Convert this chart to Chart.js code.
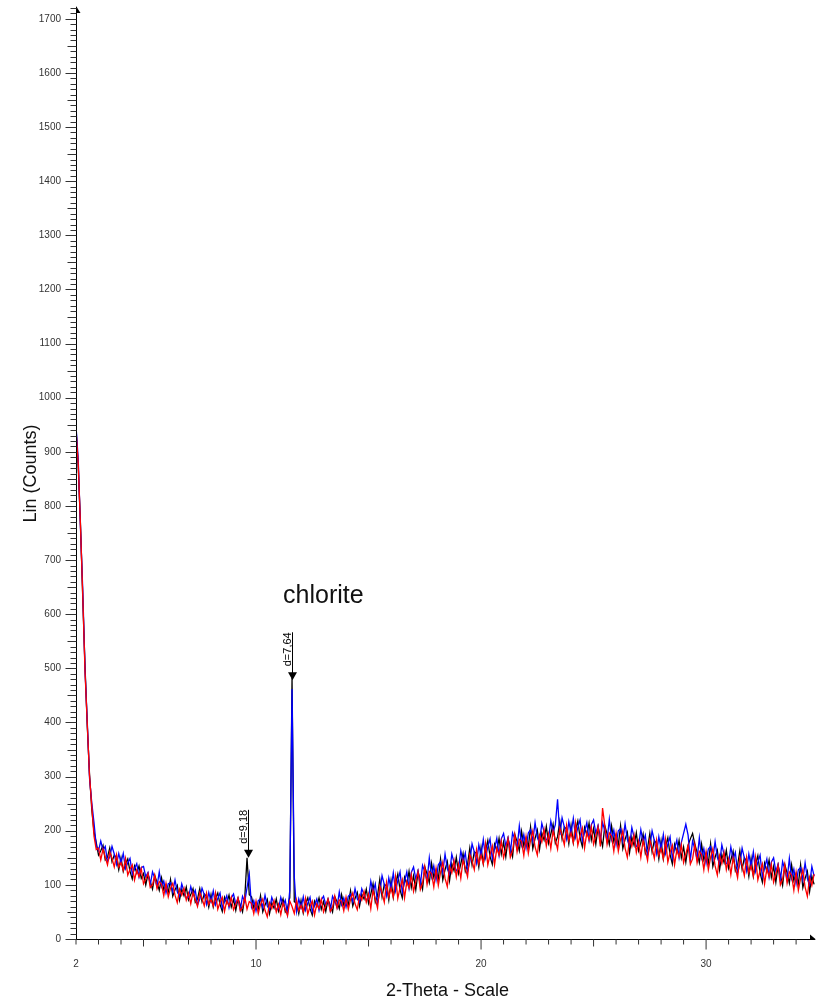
<!DOCTYPE html><html lang="en"><head><meta charset="UTF-8">
<title>XRD pattern</title>
<script src="https://cdn.jsdelivr.net/npm/chart.js"></script>
<style>
    body {
        margin: 0;
        background: white;
    }
    #box {
        width: 816px;
        height: 1004px;
    }
</style>
</head>
<body>
<div id="box"><canvas id="xrd" width="816" height="1004"></canvas></div>
<script>
    // scan positions, degrees 2-theta
    const twoTheta = [
        2,2.1,2.2,2.3,2.4,2.5,2.6,2.7,2.8,2.9,
        3,3.1,3.2,3.3,3.4,3.5,3.6,3.7,3.8,3.9,
        4,4.1,4.2,4.3,4.4,4.5,4.6,4.7,4.8,4.9,
        5,5.1,5.2,5.3,5.4,5.5,5.6,5.7,5.8,5.9,
        6,6.1,6.2,6.3,6.4,6.5,6.6,6.7,6.8,6.9,
        7,7.1,7.2,7.3,7.4,7.5,7.6,7.7,7.8,7.9,
        8,8.1,8.2,8.3,8.4,8.5,8.6,8.7,8.8,8.9,
        9,9.1,9.2,9.3,9.4,9.5,9.6,9.7,9.8,9.9,
        10,10.1,10.2,10.3,10.4,10.5,10.6,10.7,10.8,10.9,
        11,11.1,11.2,11.3,11.4,11.5,11.6,11.7,11.8,11.9,
        12,12.1,12.2,12.3,12.4,12.5,12.6,12.7,12.8,12.9,
        13,13.1,13.2,13.3,13.4,13.5,13.6,13.7,13.8,13.9,
        14,14.1,14.2,14.3,14.4,14.5,14.6,14.7,14.8,14.9,
        15,15.1,15.2,15.3,15.4,15.5,15.6,15.7,15.8,15.9,
        16,16.1,16.2,16.3,16.4,16.5,16.6,16.7,16.8,16.9,
        17,17.1,17.2,17.3,17.4,17.5,17.6,17.7,17.8,17.9,
        18,18.1,18.2,18.3,18.4,18.5,18.6,18.7,18.8,18.9,
        19,19.1,19.2,19.3,19.4,19.5,19.6,19.7,19.8,19.9,
        20,20.1,20.2,20.3,20.4,20.5,20.6,20.7,20.8,20.9,
        21,21.1,21.2,21.3,21.4,21.5,21.6,21.7,21.8,21.9,
        22,22.1,22.2,22.3,22.4,22.5,22.6,22.7,22.8,22.9,
        23,23.1,23.2,23.3,23.4,23.5,23.6,23.7,23.8,23.9,
        24,24.1,24.2,24.3,24.4,24.5,24.6,24.7,24.8,24.9,
        25,25.1,25.2,25.3,25.4,25.5,25.6,25.7,25.8,25.9,
        26,26.1,26.2,26.3,26.4,26.5,26.6,26.7,26.8,26.9,
        27,27.1,27.2,27.3,27.4,27.5,27.6,27.7,27.8,27.9,
        28,28.1,28.2,28.3,28.4,28.5,28.6,28.7,28.8,28.9,
        29,29.1,29.2,29.3,29.4,29.5,29.6,29.7,29.8,29.9,
        30,30.1,30.2,30.3,30.4,30.5,30.6,30.7,30.8,30.9,
        31,31.1,31.2,31.3,31.4,31.5,31.6,31.7,31.8,31.9,
        32,32.1,32.2,32.3,32.4,32.5,32.6,32.7,32.8,32.9,
        33,33.1,33.2,33.3,33.4,33.5,33.6,33.7,33.8,33.9,
        34,34.1,34.2,34.3,34.4,34.5,34.6,34.7,34.8
    ];

    // counts, black scan
    const blackCounts = [
        945,872,765,630,505,395,305,240,198,178,
        155,163,173,146,151,168,143,155,150,128,
        150,125,139,148,125,111,135,122,135,112,
        121,100,120,106,92,117,105,90,113,91,
        100,86,110,79,91,99,72,92,80,96,
        72,82,93,68,74,93,69,83,79,59,
        82,59,75,85,64,51,77,66,81,59,
        73,53,75,63,50,77,150,82,78,58,
        67,55,80,50,63,73,47,67,57,74,
        51,62,74,50,57,77,482,69,66,47,
        71,48,65,76,56,44,70,60,76,55,
        69,51,73,62,50,78,69,56,82,63,
        74,63,89,61,75,86,61,83,74,92,
        66,83,102,68,80,110,78,101,98,72,
        108,77,102,120,91,76,114,101,125,95,
        117,91,124,109,92,133,120,104,140,114,
        128,111,148,109,128,143,108,139,126,151,
        121,139,158,125,138,168,137,161,158,133,
        169,139,163,182,152,138,175,163,186,157,
        179,152,185,169,152,193,180,163,199,172,
        187,170,207,167,186,201,166,196,183,208,
        177,194,212,177,189,217,185,207,203,176,
        210,178,201,218,187,171,206,192,214,183,
        204,175,207,189,171,209,194,175,209,180,
        193,174,209,167,184,197,160,188,173,196,
        163,178,194,158,168,195,161,182,176,148,
        181,148,171,187,156,139,175,160,182,150,
        170,142,173,185,195,175,160,141,175,146,
        159,140,176,134,151,164,128,156,141,164,
        131,146,162,126,136,163,129,150,144,116,
        149,116,138,154,122,105,140,125,146,114,
        134,105,136,118,99,137,122,103,137,108,
        121,102,137,95,112,125,88,116,101
    ];

    // counts, blue scan
    const blueCounts = [
        948,885,758,645,498,402,298,252,215,172,
        163,181,164,171,143,152,171,157,138,158,
        140,158,130,141,149,120,130,139,115,132,
        134,115,123,100,124,112,97,124,97,107,
        85,102,104,87,109,87,79,102,88,76,
        77,97,81,90,63,74,94,82,64,86,
        69,89,63,75,85,57,69,80,58,76,
        83,65,75,54,79,69,95,120,59,71,
        52,71,74,58,81,61,54,77,65,54,
        56,77,62,72,46,90,462,115,51,74,
        58,78,53,66,77,50,62,74,53,72,
        79,63,73,53,79,70,58,87,63,76,
        59,79,83,69,93,74,68,93,82,72,
        75,107,87,102,67,85,117,101,80,113,
        93,122,89,108,124,86,106,124,94,123,
        133,111,126,99,136,124,107,150,115,135,
        109,137,143,123,157,130,120,157,141,126,
        130,163,143,159,125,143,176,161,140,174,
        154,184,150,170,185,148,167,186,155,185,
        195,172,187,159,196,184,167,209,174,193,
        168,196,202,181,215,188,178,214,198,183,
        186,218,197,211,258,192,224,207,185,217,
        195,223,188,206,220,181,198,215,183,211,
        220,195,209,179,215,200,181,221,184,201,
        174,200,204,181,213,184,172,206,188,171,
        172,202,179,192,155,170,200,182,158,189,
        166,193,158,175,189,149,167,183,151,178,
        195,212,192,146,181,166,147,187,150,167,
        140,166,171,148,180,151,140,174,156,139,
        140,170,147,160,123,138,168,150,126,157,
        134,161,125,142,155,115,132,148,115,142,
        150,125,138,108,143,128,109,149,112,129,
        102,128,132,109,141,112,100,134,116
    ];

    // counts, red scan
    const redCounts = [
        940,878,762,635,495,398,302,246,190,165,
        168,146,166,151,137,161,149,133,156,133,
        141,127,149,118,129,137,109,127,115,130,
        102,111,121,95,100,118,93,106,101,80,
        103,78,94,103,81,67,92,81,94,72,
        85,65,86,73,60,86,75,61,85,64,
        73,61,85,55,68,77,51,71,61,77,
        54,64,76,52,58,78,55,69,66,47,
        70,47,64,74,53,41,67,56,71,50,
        64,45,67,55,43,70,60,47,72,52,
        62,50,75,46,60,70,44,65,56,73,
        50,62,74,51,58,79,57,72,70,52,
        77,55,73,85,65,54,81,72,88,68,
        83,56,90,74,57,98,85,68,105,78,
        94,77,115,75,95,110,76,106,94,119,
        88,106,124,91,103,133,101,125,121,96,
        130,99,123,142,112,97,134,122,145,115,
        138,112,146,131,115,156,144,128,165,139,
        155,139,176,137,156,172,137,168,155,181,
        150,167,185,151,163,193,161,184,180,154,
        189,158,182,200,170,155,192,179,202,172,
        194,167,200,183,166,205,192,174,210,182,
        196,178,214,173,191,205,168,197,183,207,
        175,190,207,171,242,209,175,196,190,162,
        195,162,184,200,168,151,186,171,192,160,
        180,151,182,164,145,183,168,149,183,154,
        167,148,184,142,160,173,137,165,151,174,
        141,157,173,138,148,175,141,162,156,128,
        161,128,151,167,135,118,154,139,160,128,
        148,119,150,132,113,151,136,117,151,122,
        135,116,151,109,126,139,102,130,115,138,
        105,120,136,100,110,137,103,124,118,90,
        123,90,112,128,96,79,114,99,120
    ];

    const xTickValues = [2, 10, 20, 30];
    const yTickValues = [0,100,200,300,400,500,600,700,800,900,1000,1100,1200,1300,1400,1500,1600,1700];

    // d-spacing markers
    const peakAngles = [9.64, 11.6];
    const peakLabels = ['d=9,18', 'd=7,64'];
    const peakArrowCounts = [150, 478];
    const phaseName = 'chlorite';
    const phaseAt = {theta: 11.2, counts: 621};

    const xMin = 2, xMax = 34.84, yMax = 1720;
    const fontName = "'Liberation Sans', Arial, Helvetica, sans-serif";

    function toPoints(ys) {
        return twoTheta.map((t, i) => ({x: t, y: ys[i]}));
    }

    const decor = {
        id: 'decor',
        afterDraw(chart) {
            const ctx = chart.ctx;
            const xs = chart.scales.x, ys = chart.scales.y;
            const area = chart.chartArea;
            const x0 = Math.round(xs.getPixelForValue(xMin)) + 0.5;
            const y0 = Math.round(ys.getPixelForValue(0)) + 0.5;
            ctx.save();
            ctx.strokeStyle = '#000';
            ctx.fillStyle = '#000';
            ctx.lineWidth = 1;

            // axes
            ctx.beginPath();
            ctx.moveTo(x0, y0);
            ctx.lineTo(x0, area.top - 1);
            ctx.moveTo(x0 - 10, y0);
            ctx.lineTo(area.right, y0);
            ctx.stroke();
            ctx.beginPath();
            ctx.moveTo(x0 - 0.5, area.top - 2);
            ctx.lineTo(x0 + 4, area.top + 5);
            ctx.lineTo(x0 - 0.5, area.top + 5);
            ctx.fill();
            ctx.beginPath();
            ctx.moveTo(area.right - 5, y0 - 5);
            ctx.lineTo(area.right + 1, y0);
            ctx.lineTo(area.right - 5, y0);
            ctx.fill();

            // tick marks
            ctx.strokeStyle = '#333';
            ctx.beginPath();
            for (let t = 2; t <= 34; t++) {
                const px = xs.getPixelForValue(t);
                const len = t % 10 === 0 ? 10 : (t % 5 === 0 ? 7 : 5);
                ctx.moveTo(px, y0);
                ctx.lineTo(px, y0 + len);
            }
            for (let v = 0; v <= yMax; v += 10) {
                const py = Math.round(ys.getPixelForValue(v)) + 0.5;
                const len = v % 100 === 0 ? 11 : (v % 50 === 0 ? 9 : 6);
                ctx.moveTo(x0, py);
                ctx.lineTo(x0 - len, py);
            }
            ctx.stroke();

            // axis titles
            ctx.fillStyle = '#111';
            ctx.font = '18px ' + fontName;
            ctx.textAlign = 'center';
            ctx.textBaseline = 'alphabetic';
            ctx.fillText('2-Theta - Scale', (area.left + area.right) / 2 + 2, 996);
            ctx.save();
            ctx.translate(36, (area.top + area.bottom) / 2);
            ctx.rotate(-Math.PI / 2);
            ctx.fillText('Lin (Counts)', 0, 0);
            ctx.restore();

            // peak markers
            ctx.strokeStyle = '#000';
            ctx.fillStyle = '#000';
            ctx.font = '11px ' + fontName;
            ctx.textAlign = 'left';
            for (let i = 0; i < peakAngles.length; i++) {
                const px = Math.round(xs.getPixelForValue(peakAngles[i])) + 0.5;
                const tip = ys.getPixelForValue(peakArrowCounts[i]);
                ctx.beginPath();
                ctx.moveTo(px, tip - 48);
                ctx.lineTo(px, tip - 6);
                ctx.stroke();
                ctx.beginPath();
                ctx.moveTo(px - 4.5, tip - 8);
                ctx.lineTo(px + 4.5, tip - 8);
                ctx.lineTo(px, tip);
                ctx.fill();
                ctx.save();
                ctx.translate(px - 1.5, tip - 14);
                ctx.rotate(-Math.PI / 2);
                ctx.fillText(peakLabels[i], 0, 0);
                ctx.restore();
            }

            ctx.font = '25px ' + fontName;
            ctx.fillStyle = '#111';
            ctx.fillText(phaseName, xs.getPixelForValue(phaseAt.theta), ys.getPixelForValue(phaseAt.counts));
            ctx.restore();
        }
    };

    function noEdgePadding(s) {
        s.paddingTop = 0;
        s.paddingBottom = 0;
        s.paddingLeft = 0;
        s.paddingRight = 0;
    }

    new Chart(document.getElementById('xrd'), {
        type: 'line',
        data: {
            datasets: [
                {label: 'red', data: toPoints(redCounts), borderColor: '#ff0000'},
                {label: 'blue', data: toPoints(blueCounts), borderColor: '#0000ff'},
                {label: 'black', data: toPoints(blackCounts), borderColor: '#000000'}
            ]
        },
        options: {
            responsive: false,
            animation: false,
            devicePixelRatio: 1,
            layout: {padding: {top: 8, right: 1, left: 0, bottom: 0}},
            elements: {
                line: {borderWidth: 1.3, tension: 0},
                point: {radius: 0}
            },
            plugins: {
                legend: {display: false},
                tooltip: {enabled: false}
            },
            scales: {
                x: {
                    type: 'linear',
                    min: xMin,
                    max: xMax,
                    grid: {display: false, drawTicks: false},
                    border: {display: false},
                    afterFit: s => { s.height = 65; noEdgePadding(s); },
                    afterBuildTicks: s => { s.ticks = xTickValues.map(v => ({value: v})); },
                    ticks: {
                        autoSkip: false,
                        maxRotation: 0,
                        padding: 19,
                        color: '#333',
                        font: {family: fontName, size: 10},
                        callback: v => String(v)
                    }
                },
                y: {
                    type: 'linear',
                    min: 0,
                    max: yMax,
                    grid: {display: false, drawTicks: false},
                    border: {display: false},
                    afterFit: s => { s.width = 76; noEdgePadding(s); },
                    afterBuildTicks: s => { s.ticks = yTickValues.map(v => ({value: v})); },
                    ticks: {
                        autoSkip: false,
                        padding: 15,
                        color: '#333',
                        font: {family: fontName, size: 10},
                        callback: v => String(v)
                    }
                }
            }
        },
        plugins: [decor]
    });
</script>
</body>
</html>
